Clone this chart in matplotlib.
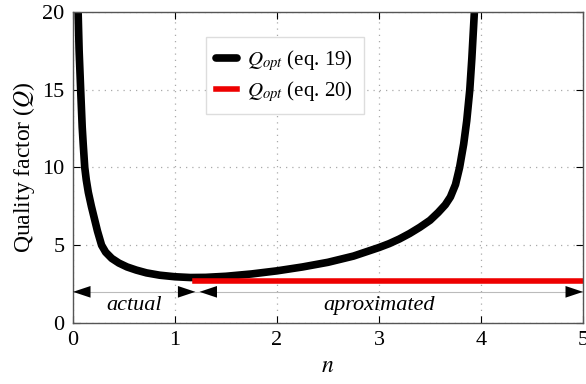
import matplotlib
matplotlib.use('Agg')
import matplotlib.pyplot as plt

# Q_opt from eq. 19
n_19 = [0.05, 0.06, 0.075, 0.09, 0.1, 0.115, 0.13, 0.15, 0.18, 0.21, 0.24, 0.28, 0.32,
        0.38, 0.45, 0.53, 0.62, 0.72, 0.85, 1.0, 1.15, 1.3, 1.5, 1.75, 2.0, 2.25, 2.5,
        2.75, 3.0, 3.1, 3.2, 3.3, 3.4, 3.5, 3.58, 3.65, 3.7, 3.75, 3.79, 3.83, 3.86,
        3.89, 3.91, 3.925, 3.935]
q_19 = [20.0, 17.5, 15.0, 12.6, 11.5, 10.0, 9.2, 8.4, 7.5, 6.7, 5.9, 5.0, 4.55,
        4.15, 3.85, 3.6, 3.4, 3.22, 3.07, 2.97, 2.92, 2.93, 3.0, 3.15, 3.35, 3.6, 3.9,
        4.3, 4.85, 5.1, 5.4, 5.75, 6.15, 6.6, 7.1, 7.6, 8.1, 8.9, 10.0, 11.5, 13.0,
        15.0, 17.0, 18.8, 20.0]

# Q_opt from eq. 20 (constant approximation)
n_20 = [1.2, 5.0]
q_20 = [2.7, 2.7]

plt.rcParams['font.family'] = 'Liberation Serif'
plt.rcParams['mathtext.fontset'] = 'stix'

fig = plt.figure(figsize=(5.86, 3.84), dpi=100)
ax = fig.add_axes([0.1246, 0.159, 0.8703, 0.81])

ax.plot(n_19, q_19, color='black', lw=5.5, solid_joinstyle='round', solid_capstyle='round',
        label=r'$Q_{opt}$ (eq. 19)')
ax.plot(n_20, q_20, color='#ee0000', lw=4, label=r'$Q_{opt}$ (eq. 20)')

# range arrows
ax.plot([0, 5], [2.0, 2.0], color='#bbbbbb', lw=0.8)
arrow = dict(arrowstyle='<|-|>,head_length=0.9,head_width=0.3', fc='black', lw=0,
             mutation_scale=14, shrinkA=0, shrinkB=0)
ax.annotate('', xy=(0.0, 2.0), xytext=(1.2, 2.0), arrowprops=arrow)
ax.annotate('', xy=(1.24, 2.0), xytext=(5.0, 2.0), arrowprops=arrow)
ax.text(0.6, 1.15, 'actual', style='italic', fontsize=16, ha='center', va='center')
ax.text(3.0, 1.15, 'aproximated', style='italic', fontsize=16, ha='center', va='center')

ax.set_xlim(0, 5)
ax.set_ylim(0, 20)
ax.set_xticks([0, 1, 2, 3, 4, 5])
ax.set_yticks([0, 5, 10, 15, 20])
ax.tick_params(direction='in', top=True, right=True, labelsize=16, length=5, pad=6)
ax.grid(True, linestyle=(0, (1, 4)), color='#aaaaaa', lw=0.9)
for s in ax.spines.values():
    s.set_color('#555555')
    s.set_linewidth(1.0)

ax.set_xlabel('$n$', fontsize=17)
ax.set_ylabel('Quality factor ($Q$)', fontsize=17, labelpad=4)

leg = ax.legend(loc='upper left', bbox_to_anchor=(0.24, 0.952), fontsize=15,
                handlelength=1.0, handletextpad=0.5, borderpad=0.5, labelspacing=0.3,
                fancybox=False, framealpha=1, edgecolor='#dddddd')

fig.savefig('out.png', dpi=100)
